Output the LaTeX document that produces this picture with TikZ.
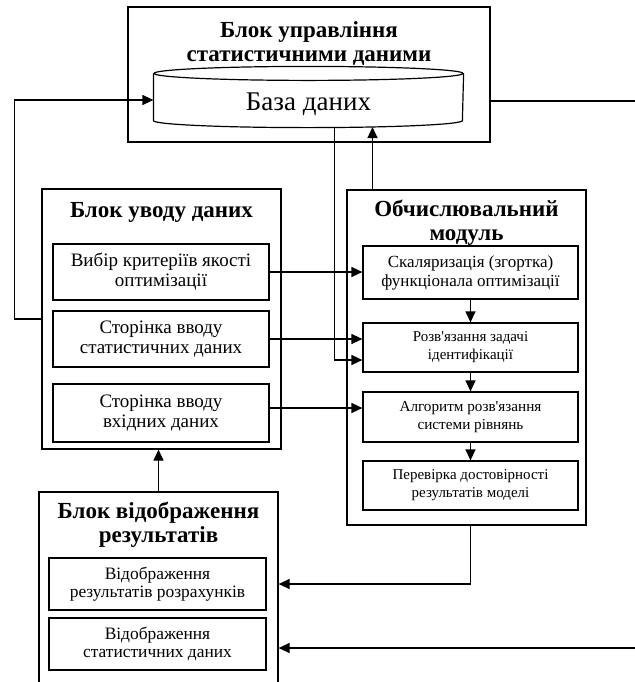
\documentclass[tikz,border=0pt]{standalone}
\usepackage{fontspec}
\setmainfont{Liberation Serif}
\usetikzlibrary{arrows.meta, positioning, calc, fit}

\begin{document}
\begin{tikzpicture}[
    x=0.5pt, y=0.5pt,
    line width=0.6pt,
    block/.style={draw, rectangle, inner sep=0pt},
    box/.style={draw, rectangle, inner sep=0pt, align=center, font=\fontsize{9.5}{10}\selectfont},
    inpage/.style={box, minimum width=108pt},
    calcstep/.style={box, minimum width=107.5pt, font=\fontsize{7.5}{9}\selectfont},
    outpage/.style={box, minimum width=108.5pt, minimum height=26pt, font=\fontsize{8.7}{9}\selectfont},
    title/.style={font=\fontsize{11.5}{12}\selectfont\bfseries, align=center, inner sep=0pt},
    arrow/.style={-{Triangle[length=5.5pt, width=5pt]}}
  ]
    \useasboundingbox (0,0) rectangle (635,-682);
    \clip (0,0) rectangle (635,-682);

    % Blocks
    \node[block, fit={(128,-7) (490,-142)}] (mgmt) {};
    \node[title, below=7.5pt of mgmt.north] (mgmttitle) {Блок управління\\статистичними даними};

    \node[block, fit={(42,-189) (281,-449)}] (input) {};
    \node[title, below=6.5pt of input.north] (inputtitle) {Блок уводу даних};

    \node[block, fit={(347,-190) (586,-525)}] (compute) {};
    \node[title, below=5pt of compute.north] (computetitle) {Обчислювальний\\модуль};

    \node[block, fit={(39,-492) (278,-700)}] (output) {};
    \node[title, below=5pt of output.north] (outputtitle) {Блок відображення\\результатів};

    % Database
    \node[inner sep=0pt, fit={(154,-74) (463,-120)}] (db) {};
    \draw (db.north west) -- (db.south west) arc[start angle=180, end angle=360, x radius=77.25pt, y radius=3.5pt] -- (db.north east);
    \draw (db.north) ellipse[x radius=77.25pt, y radius=3.5pt];
    \node[font=\fontsize{13.5}{14}\selectfont, inner sep=0pt] (dblabel) at ($(db.center)+(0,-7)$) {База даних};
    \coordinate (dbout) at ($(db.south)+(26,-7)$);
    \coordinate (dbin) at ($(db.south)+(64,-6.4)$);

    % Input pages
    \node[inpage, minimum height=28pt] (crit) at (161,-272) {Вибір критеріїв якості\\оптимізації};
    \node[inpage, minimum height=28pt] (stat) at (161,-339) {Сторінка вводу\\статистичних даних};
    \node[inpage, minimum height=29pt] (inp) at (161,-413) {Сторінка вводу\\вхідних даних};

    % Computation steps
    \node[calcstep, minimum height=26.5pt, font=\fontsize{8.5}{9.5}\selectfont] (scal) at (470.5,-272.5) {Скаляризація (згортка)\\функціонала оптимізації};
    \node[calcstep, minimum height=24.5pt] (ident) at (470.5,-347.5) {Розв\textquotesingle язання задачі\\ідентифікації};
    \node[calcstep, minimum height=25pt, font=\fontsize{7.6}{9}\selectfont] (alg) at (470.5,-417) {Алгоритм розв\textquotesingle язання\\системи рівнянь};
    \node[calcstep, minimum height=24.5pt] (check) at (470.5,-485.5) {Перевірка достовірності\\результатів моделі};

    % Output pages
    \node[outpage] (res) at (157.5,-584) {Відображення\\результатів розрахунків};
    \node[outpage] (stats) at (157.5,-644) {Відображення\\статистичних даних};

    % Connections
    \coordinate (rtop) at (635,-101);
    \coordinate (rbot) at (635,-648);
    \draw[arrow] (input.west) -- ++(-27,0) |- ([yshift=-1.5pt]db.west);
    \draw (mgmt.east |- rtop) -- (rtop);
    \draw[arrow] (compute.north -| dbin) -- (dbin);
    \draw[arrow] (dbout) |- ([yshift=-6.25pt]ident.west);
    \draw[arrow] (crit.east) -- (crit.east -| scal.west);
    \draw[arrow] (stat.east) -- (stat.east -| ident.west);
    \draw[arrow] ([yshift=2.5pt]inp.east) -- ([yshift=2.5pt]inp.east -| alg.west);
    \draw[arrow] (scal) -- (ident);
    \draw[arrow] (ident) -- (alg);
    \draw[arrow] (alg) -- (check);
    \draw[arrow] (check.south |- compute.south) |- (res -| output.east);
    \draw[arrow] (rbot) -- (rbot -| output.east);
    \draw[arrow] (output.north) -- (output.north |- input.south);

  \end{tikzpicture}
\end{document}
